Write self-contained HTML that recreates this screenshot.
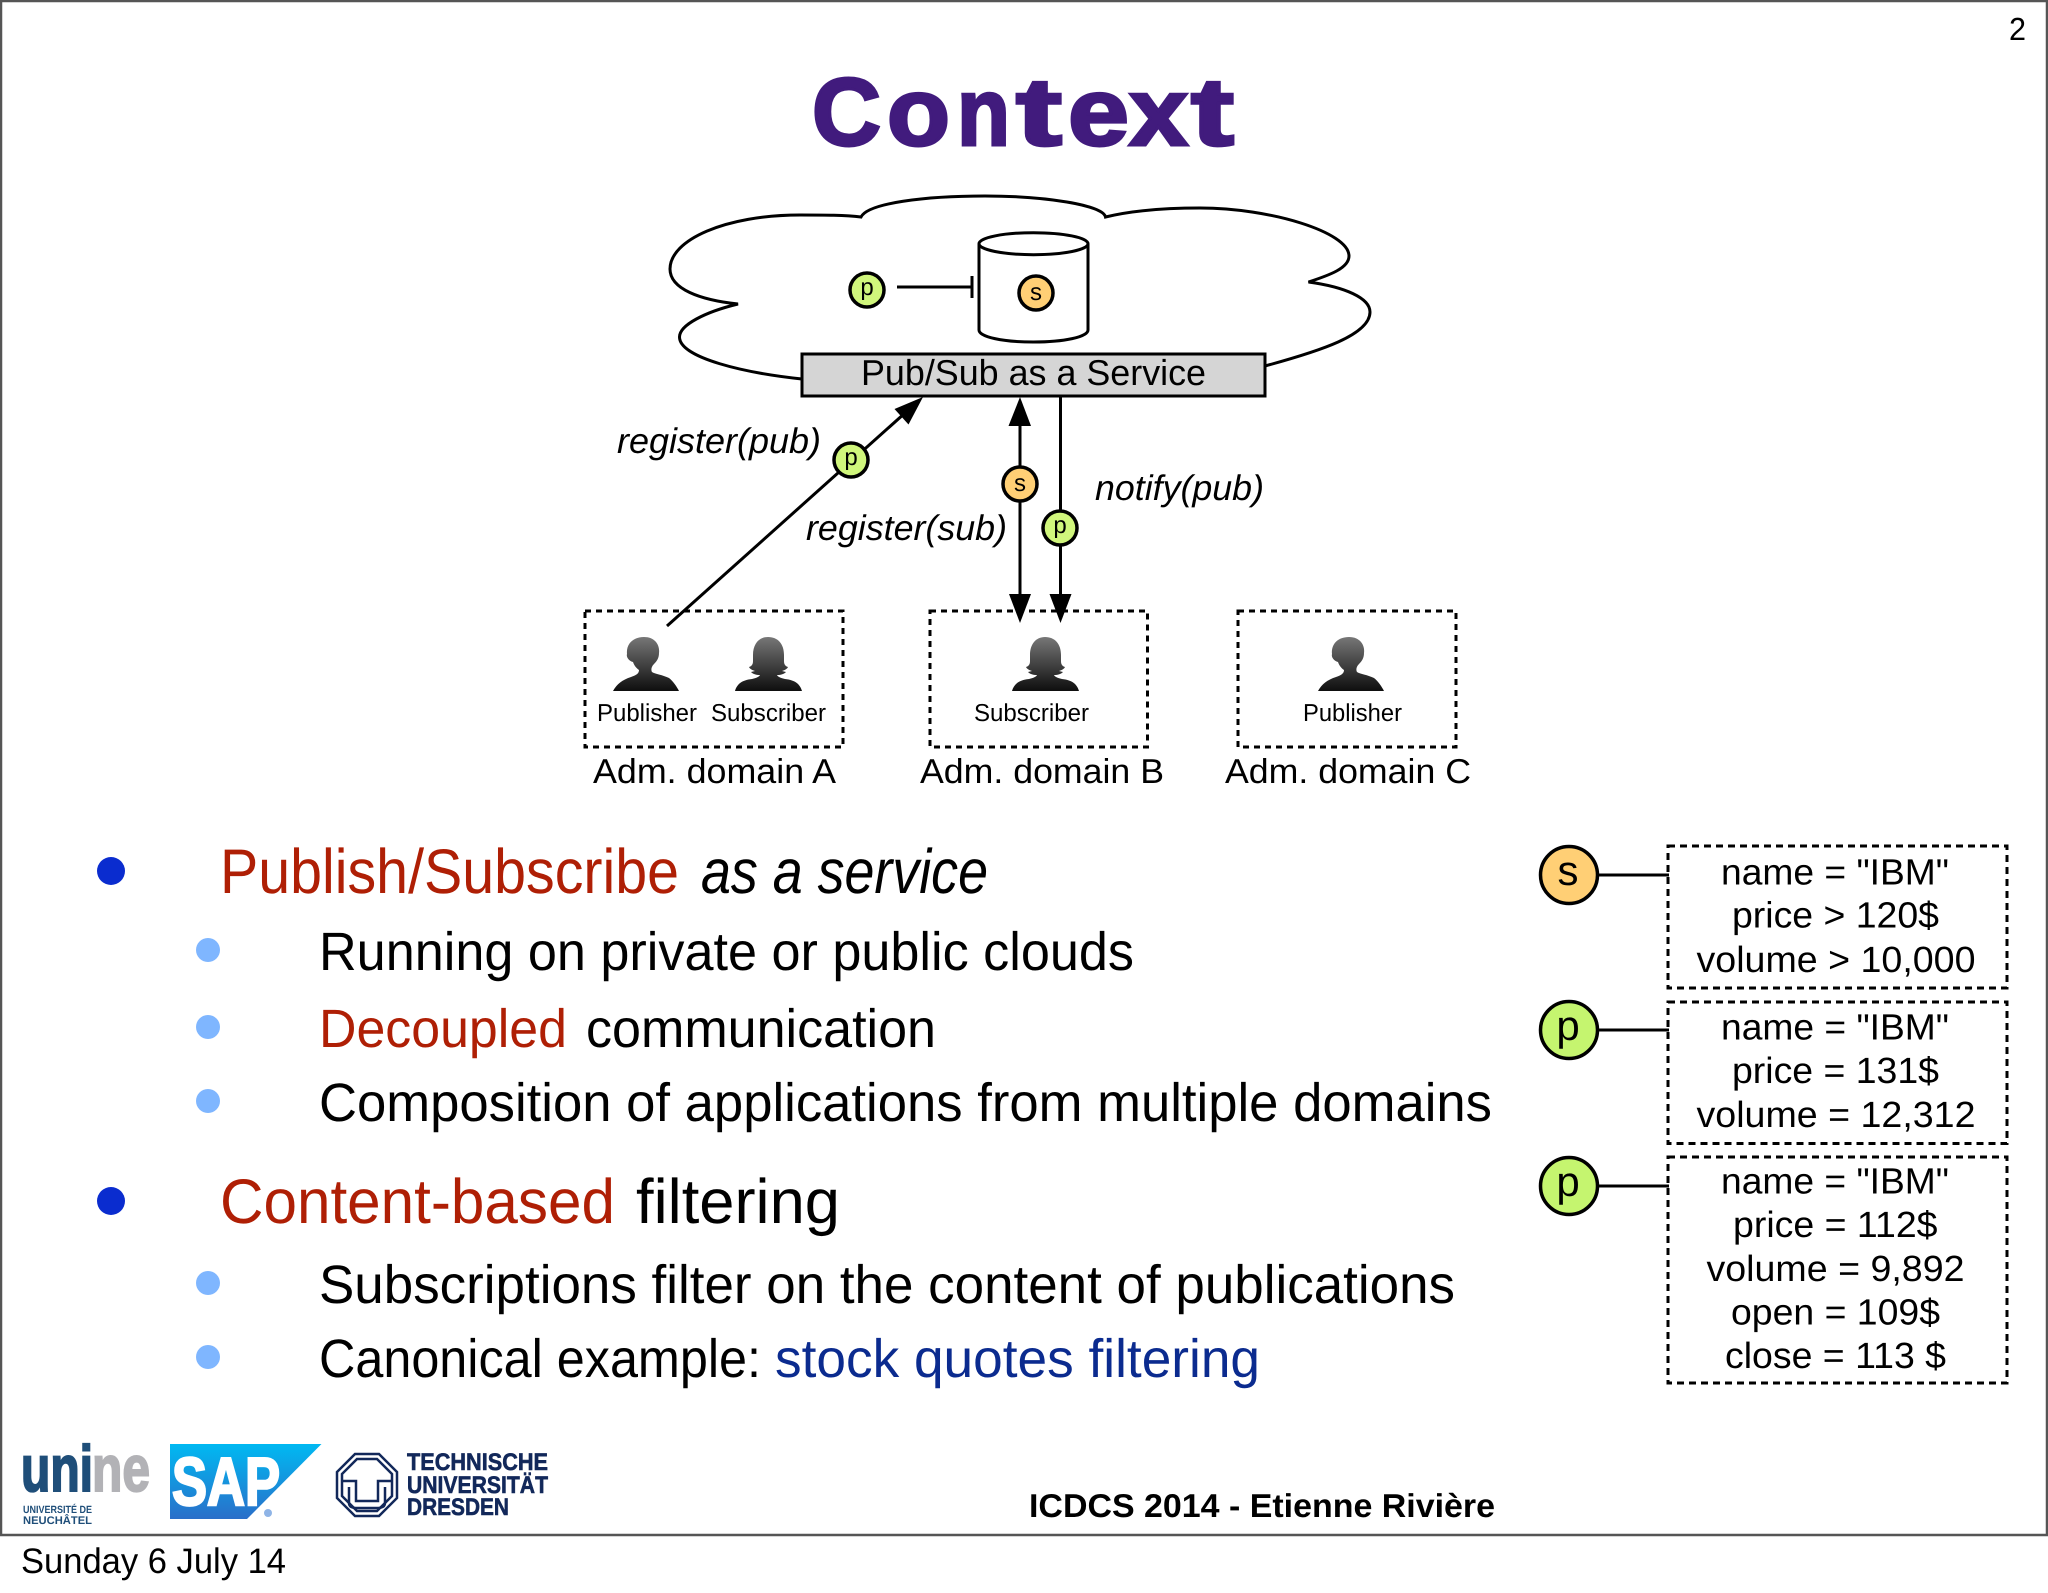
<!DOCTYPE html>
<html><head><meta charset="utf-8"><style>
html,body{margin:0;padding:0;background:#fff;width:2048px;height:1593px;overflow:hidden}
svg{display:block}
text{font-family:"Liberation Sans",sans-serif;fill:#000;text-rendering:geometricPrecision}
.l{stroke:#000;stroke-width:3;fill:none}
.d{stroke:#000;stroke-width:3;fill:none;stroke-dasharray:6 5}
.dd{stroke:#000;stroke-width:3;fill:none;stroke-dasharray:7 5}
.cs{fill:#ffcf75;stroke:#000;stroke-width:3.5}
.cp{fill:#d0f67c;stroke:#000;stroke-width:3.5}
.cb{fill:#c5f56f;stroke:#000;stroke-width:3.5}
.sm{font-size:24px;text-anchor:middle}
.bg{font-size:42px;text-anchor:middle}
.i{font-style:italic;font-size:35.5px}
.a{font-size:34.5px}
.t{font-size:24.5px}
.r{font-size:36.5px}
.h1{font-size:63px}
.h2{font-size:54px}
.red{fill:#af1f05}
.ti{font-size:96px;font-weight:700;fill:#411b7d;stroke:#411b7d;stroke-width:3}
.tu{font-weight:700;font-size:24px;fill:#12285a;stroke:#12285a;stroke-width:.6}
</style></head><body>
<svg width="2048" height="1593" viewBox="0 0 2048 1593" xmlns="http://www.w3.org/2000/svg">
<defs>
<linearGradient id="g" x1="0" y1="0" x2="0" y2="1"><stop offset="0" stop-color="#777"/><stop offset="1" stop-color="#0e0e0e"/></linearGradient>
<linearGradient id="sap" x1="0" y1="0" x2="0" y2="1"><stop offset="0" stop-color="#00b9f2"/><stop offset="1" stop-color="#2a6fc9"/></linearGradient>
<path id="man" fill="url(#g)" d="M0 54C4 47 9 43 18 40C24 38 26 36 26 33C23 31 21 28 20 25C16 24 13 20 14 17C13 7 20 0 31 0C42 0 47 8 46 16C46 21 44 24 41 27C38 30 38 33 39 35C42 37 50 38 56 41C60 44 64 50 66 54Z"/>
<path id="wom" fill="url(#g)" d="M0 54C2 47 7 43 17 42C21 41 24 40 25 38C21 38 18 37 16 35L20 34C17 33 15 32 14 30C17 29 18 27 18 24L18 18C18 7 24 0 33 0C43 0 49 7 49 18L49 24C49 27 50 29 53 30C52 32 50 33 47 34L51 35C49 37 46 38 42 38C43 40 46 41 50 42C60 43 65 47 67 54Z"/>
</defs>
<rect width="2048" height="1593" fill="#fff"/>
<path d="M1 1H2047V1535H1Z" fill="none" stroke="#555" stroke-width="2.5"/>

<text class="ti" x="812" y="145" textLength="69" lengthAdjust="spacingAndGlyphs">C</text>
<text class="ti" x="887" y="145" textLength="63" lengthAdjust="spacingAndGlyphs">o</text>
<text class="ti" x="957" y="145" textLength="53" lengthAdjust="spacingAndGlyphs">n</text>
<text class="ti" x="1016" y="145" textLength="46" lengthAdjust="spacingAndGlyphs">t</text>
<text class="ti" x="1068" y="145" textLength="61" lengthAdjust="spacingAndGlyphs">e</text>
<text class="ti" x="1129" y="145" textLength="59" lengthAdjust="spacingAndGlyphs">x</text>
<text class="ti" x="1191" y="145" textLength="43" lengthAdjust="spacingAndGlyphs">t</text>
<text x="2009" y="40" font-size="32" textLength="17" lengthAdjust="spacingAndGlyphs">2</text>

<path class="l" d="M1265 366C1320 351 1370 335 1370 312C1370 298 1345 287 1308.500 282C1330 275 1349 268 1349 256C1349 232 1270 208 1200 208C1160 208 1130 211 1105.500 217C1103 205 1045 196 985 196C925 196 868 203 861 217C845 215 825 215 800 215C725 215 670 240 670 269C670 289 700 300 738 304C705 312 679.500 325 679.500 337C679.500 358 745 373 802 379"/>
<path fill="#fff" stroke="#000" stroke-width="3" d="M979 243.700V330C979 337 1003 342 1033.500 342C1064 342 1088 337 1088 330V243.700"/>
<ellipse cx="1033.500" cy="243.700" rx="54.500" ry="11" fill="#fff" stroke="#000" stroke-width="3"/>
<circle class="cp" cx="867" cy="290" r="17"/><text class="sm" x="867" y="295">p</text>
<circle class="cs" cx="1036" cy="293" r="17"/><text class="sm" x="1036" y="300">s</text>
<path class="l" d="M897 287H972M972 276V298"/>
<rect x="802" y="354" width="463" height="42" fill="#d5d5d5" stroke="#000" stroke-width="3"/>
<text x="861" y="385" font-size="36" textLength="345" lengthAdjust="spacingAndGlyphs">Pub/Sub as a Service</text>

<path class="l" d="M667 626L905 413"/>
<polygon points="923,397 908.500,424.500 894.500,409"/>
<path class="l" d="M1020 420V600M1060.500 396V600"/>
<polygon points="1020,397 1008.500,426 1031,426"/>
<polygon points="1009,594 1031,594 1020,623"/>
<polygon points="1049.500,594 1071.500,594 1060.500,623"/>
<circle class="cp" cx="851" cy="460" r="17"/><text class="sm" x="851" y="465">p</text>
<circle class="cs" cx="1020" cy="484" r="17"/><text class="sm" x="1020" y="491">s</text>
<circle class="cp" cx="1060" cy="528" r="17"/><text class="sm" x="1060" y="533">p</text>
<text class="i" x="617" y="453" textLength="204" lengthAdjust="spacingAndGlyphs">register(pub)</text>
<text class="i" x="806" y="540" textLength="201" lengthAdjust="spacingAndGlyphs">register(sub)</text>
<text class="i" x="1095" y="500" textLength="169" lengthAdjust="spacingAndGlyphs">notify(pub)</text>

<rect class="d" x="585" y="611" width="258" height="136"/>
<rect class="d" x="930" y="611" width="217.500" height="136"/>
<rect class="d" x="1238" y="611" width="218" height="136"/>
<use href="#man" x="613" y="637"/>
<use href="#wom" x="735" y="637"/>
<use href="#wom" x="1012" y="637"/>
<use href="#man" x="1318" y="637"/>
<text class="t" x="597" y="721" textLength="100" lengthAdjust="spacingAndGlyphs">Publisher</text>
<text class="t" x="711" y="721" textLength="115" lengthAdjust="spacingAndGlyphs">Subscriber</text>
<text class="t" x="974" y="721" textLength="115" lengthAdjust="spacingAndGlyphs">Subscriber</text>
<text class="t" x="1303" y="721" textLength="99" lengthAdjust="spacingAndGlyphs">Publisher</text>
<text class="a" x="593" y="783" textLength="243" lengthAdjust="spacingAndGlyphs">Adm. domain A</text>
<text class="a" x="920" y="783" textLength="244" lengthAdjust="spacingAndGlyphs">Adm. domain B</text>
<text class="a" x="1225" y="783" textLength="246" lengthAdjust="spacingAndGlyphs">Adm. domain C</text>

<circle cx="111" cy="871" r="14" fill="#0a2ccf"/>
<circle cx="111" cy="1201" r="14" fill="#0a2ccf"/>
<g fill="#7fb6ff"><circle cx="208" cy="950" r="12"/><circle cx="208" cy="1027" r="12"/><circle cx="208" cy="1101" r="12"/><circle cx="208" cy="1283" r="12"/><circle cx="208" cy="1357" r="12"/></g>
<text class="h1 red" x="220" y="893" textLength="459" lengthAdjust="spacingAndGlyphs">Publish/Subscribe</text>
<text class="h1" x="701" y="893" font-style="italic" textLength="287" lengthAdjust="spacingAndGlyphs">as a service</text>
<text class="h2" x="319" y="970" textLength="815" lengthAdjust="spacingAndGlyphs">Running on private or public clouds</text>
<text class="h2 red" x="319" y="1047" textLength="248" lengthAdjust="spacingAndGlyphs">Decoupled</text>
<text class="h2" x="586" y="1047" textLength="350" lengthAdjust="spacingAndGlyphs">communication</text>
<text class="h2" x="319" y="1121" textLength="1173" lengthAdjust="spacingAndGlyphs">Composition of applications from multiple domains</text>
<text class="h1 red" x="220" y="1223" textLength="395" lengthAdjust="spacingAndGlyphs">Content-based</text>
<text class="h1" x="636" y="1223" textLength="204" lengthAdjust="spacingAndGlyphs">filtering</text>
<text class="h2" x="319" y="1303" textLength="1136" lengthAdjust="spacingAndGlyphs">Subscriptions filter on the content of publications</text>
<text class="h2" x="319" y="1377" textLength="442" lengthAdjust="spacingAndGlyphs">Canonical example:</text>
<text class="h2" x="775" y="1377" textLength="485" lengthAdjust="spacingAndGlyphs" style="fill:#0b2b8f">stock quotes filtering</text>

<path class="l" d="M1598 875H1669M1598 1030H1669M1598 1186H1669"/>
<circle class="cs" cx="1569" cy="875" r="28.500"/><text class="bg" x="1568" y="885">s</text>
<circle class="cb" cx="1569" cy="1030" r="28.500"/><text class="bg" x="1568" y="1040">p</text>
<circle class="cb" cx="1569" cy="1186" r="28.500"/><text class="bg" x="1568" y="1196">p</text>
<rect class="dd" x="1668" y="846" width="339" height="142"/>
<rect class="dd" x="1668" y="1002" width="339" height="141.500"/>
<rect class="dd" x="1668" y="1157" width="339" height="226"/>
<text class="r" x="1721" y="884.500" textLength="228" lengthAdjust="spacingAndGlyphs">name = "IBM"</text>
<text class="r" x="1732" y="927.500" textLength="207" lengthAdjust="spacingAndGlyphs">price &gt; 120$</text>
<text class="r" x="1696.500" y="972" textLength="279" lengthAdjust="spacingAndGlyphs">volume &gt; 10,000</text>
<text class="r" x="1721" y="1039.500" textLength="228" lengthAdjust="spacingAndGlyphs">name = "IBM"</text>
<text class="r" x="1732" y="1083" textLength="207" lengthAdjust="spacingAndGlyphs">price = 131$</text>
<text class="r" x="1696.500" y="1127" textLength="279" lengthAdjust="spacingAndGlyphs">volume = 12,312</text>
<text class="r" x="1721" y="1193.600" textLength="228" lengthAdjust="spacingAndGlyphs">name = "IBM"</text>
<text class="r" x="1733" y="1237" textLength="204.500" lengthAdjust="spacingAndGlyphs">price = 112$</text>
<text class="r" x="1706.500" y="1281" textLength="258" lengthAdjust="spacingAndGlyphs">volume = 9,892</text>
<text class="r" x="1731" y="1324.500" textLength="209" lengthAdjust="spacingAndGlyphs">open = 109$</text>
<text class="r" x="1725" y="1368" textLength="221" lengthAdjust="spacingAndGlyphs">close = 113 $</text>

<text x="92" y="1491" font-size="65" font-weight="700" textLength="58" lengthAdjust="spacingAndGlyphs" style="fill:#b2b2b6;stroke:#b2b2b6;stroke-width:2">ne</text>
<text x="21" y="1491" font-size="65" font-weight="700" textLength="72" lengthAdjust="spacingAndGlyphs" style="fill:#1f4e79;stroke:#1f4e79;stroke-width:2">uni</text>
<text x="23" y="1513" font-size="10.500" font-weight="700" textLength="69" lengthAdjust="spacingAndGlyphs" style="fill:#1f4e79">UNIVERSITÉ DE</text>
<text x="23" y="1524" font-size="11" font-weight="700" textLength="69" lengthAdjust="spacingAndGlyphs" style="fill:#1f4e79">NEUCHÂTEL</text>
<polygon points="170,1444 321.500,1444 247,1519 170,1519" fill="url(#sap)"/>
<text x="172" y="1505" font-size="68" font-weight="700" textLength="108" lengthAdjust="spacingAndGlyphs" style="fill:#fff;stroke:#fff;stroke-width:2.500">SAP</text>
<circle cx="268" cy="1513" r="4" fill="#8fb4e6"/>
<g fill="none" stroke="#12285a" stroke-width="2.500">
<polygon points="355,1454 379,1454 397,1472 397,1498 379,1516 355,1516 337,1498 337,1472"/>
<polygon points="357,1459 377,1459 392,1474 392,1496 377,1511 357,1511 342,1496 342,1474"/>
<path d="M342 1481H356V1501H378V1481H392M349 1487V1503Q349 1508 357 1508H377Q385 1508 385 1503V1487"/>
</g>
<text class="tu" x="407" y="1470" textLength="141" lengthAdjust="spacingAndGlyphs">TECHNISCHE</text>
<text class="tu" x="407" y="1493" textLength="141" lengthAdjust="spacingAndGlyphs">UNIVERSITÄT</text>
<text class="tu" x="407" y="1515" textLength="102" lengthAdjust="spacingAndGlyphs">DRESDEN</text>
<text x="1029" y="1517" font-size="33" font-weight="700" textLength="466" lengthAdjust="spacingAndGlyphs">ICDCS 2014 - Etienne Rivière</text>
<text x="21" y="1573" font-size="35.500" textLength="265" lengthAdjust="spacingAndGlyphs">Sunday 6 July 14</text>
</svg>
</body></html>
